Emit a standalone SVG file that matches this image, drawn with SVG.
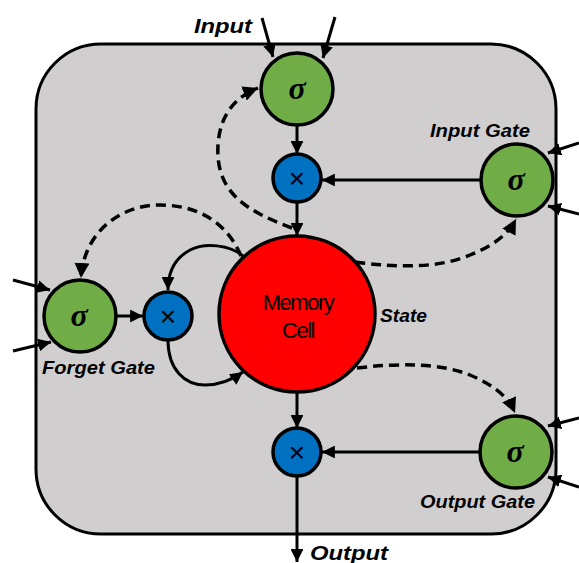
<svg xmlns="http://www.w3.org/2000/svg" width="579" height="563" viewBox="0 0 579 563">
<style>
.ln{fill:none;stroke:#000;stroke-width:3}
.ds{fill:none;stroke:#000;stroke-width:3.5;stroke-dasharray:10 6}
.sig{fill:#70ad47;stroke:#000;stroke-width:3.5}
.mul{fill:#0070c0;stroke:#000;stroke-width:3.5}
.st{font-family:"Liberation Serif",serif;font-weight:bold;font-style:italic;font-size:32px;text-anchor:middle;fill:#000}
.xt{font-family:"Liberation Sans",sans-serif;font-size:28px;text-anchor:middle;fill:#000}
.lb{font-family:"Liberation Sans",sans-serif;font-weight:bold;font-style:italic;fill:#000}
</style>
<defs>
<marker id="ah" viewBox="0 0 10 10" refX="10" refY="5" markerWidth="4.3" markerHeight="4.3" markerUnits="strokeWidth" orient="auto">
<path d="M0,0 L10,5 L0,10 z" fill="#000"/>
</marker>
</defs>
<rect id="frame" x="36" y="44" width="520" height="490" rx="65" ry="65" fill="#d0cece" stroke="#000" stroke-width="3"/>
<g id="connectors">
<line class="ln" x1="262" y1="18" x2="273" y2="57" marker-end="url(#ah)"/>
<line class="ln" x1="335" y1="17" x2="323" y2="58" marker-end="url(#ah)"/>
<line class="ln" x1="579" y1="143" x2="548" y2="153" marker-end="url(#ah)"/>
<line class="ln" x1="579" y1="214" x2="548" y2="206" marker-end="url(#ah)"/>
<line class="ln" x1="579" y1="418" x2="548" y2="426" marker-end="url(#ah)"/>
<line class="ln" x1="579" y1="487" x2="548" y2="477" marker-end="url(#ah)"/>
<line class="ln" x1="13" y1="280" x2="50" y2="290" marker-end="url(#ah)"/>
<line class="ln" x1="13" y1="351" x2="51" y2="342" marker-end="url(#ah)"/>
<line class="ln" x1="297" y1="125" x2="297" y2="154" marker-end="url(#ah)"/>
<line class="ln" x1="297" y1="203" x2="297" y2="236" marker-end="url(#ah)"/>
<line class="ln" x1="297" y1="392" x2="297" y2="428" marker-end="url(#ah)"/>
<line class="ln" x1="297" y1="476" x2="297" y2="562" marker-end="url(#ah)"/>
<line class="ln" x1="480" y1="180" x2="322" y2="180" marker-end="url(#ah)"/>
<line class="ln" x1="480" y1="452" x2="322" y2="452" marker-end="url(#ah)"/>
<line class="ln" x1="117" y1="316" x2="143" y2="316" marker-end="url(#ah)"/>
<path class="ln" d="M243,256 C230,245 205,242 190,250 C175,258 168,272 168,290" marker-end="url(#ah)"/>
<path class="ln" d="M168,340 C168,370 185,385 205,385 C220,385 232,380 243,372" marker-end="url(#ah)"/>
<path class="ds" d="M292,228 C250,212 215,195 218,145 C220,112 238,96 258,88" marker-end="url(#ah)"/>
<path class="ds" d="M241,256 C225,218 192,205 160,205 C120,205 84,232 81,278" marker-end="url(#ah)"/>
<path class="ds" d="M355,262 C400,268 440,268 470,255 C495,245 508,234 516,219" marker-end="url(#ah)"/>
<path class="ds" d="M357,368 C400,363 440,363 470,375 C498,387 509,399 515,413" marker-end="url(#ah)"/>
</g>
<g id="input-sigma">
<circle class="sig" cx="297" cy="89" r="36"/>
<text class="st" x="297" y="99">σ</text>
</g>
<g id="input-gate">
<circle class="sig" cx="517" cy="180" r="36"/>
<text class="st" x="516" y="190">σ</text>
</g>
<g id="forget-gate">
<circle class="sig" cx="80" cy="316" r="36"/>
<text class="st" x="79" y="326">σ</text>
</g>
<g id="output-gate">
<circle class="sig" cx="516" cy="452" r="36"/>
<text class="st" x="515" y="462">σ</text>
</g>
<g id="mul-input">
<circle class="mul" cx="297" cy="178" r="24"/>
<text class="xt" x="297" y="188">×</text>
</g>
<g id="mul-forget">
<circle class="mul" cx="168" cy="316" r="24"/>
<text class="xt" x="168" y="326">×</text>
</g>
<g id="mul-output">
<circle class="mul" cx="297" cy="452" r="24"/>
<text class="xt" x="297" y="462">×</text>
</g>
<g id="memory-cell">
<circle cx="297" cy="314" r="78" fill="#ff0000" stroke="#000" stroke-width="3.5"/>
<text x="298" y="310" font-family="Liberation Sans, sans-serif" font-size="22" text-anchor="middle" letter-spacing="-1.5">Memory</text>
<text x="298" y="338" font-family="Liberation Sans, sans-serif" font-size="22" text-anchor="middle" letter-spacing="-1.5">Cell</text>
</g>
<g id="labels">
<text class="lb" x="194" y="33" font-size="21" textLength="58" lengthAdjust="spacingAndGlyphs">Input</text>
<text class="lb" x="310" y="560" font-size="21" textLength="78" lengthAdjust="spacingAndGlyphs">Output</text>
<text class="lb" x="430" y="137" font-size="17.5" textLength="100" lengthAdjust="spacingAndGlyphs">Input Gate</text>
<text class="lb" x="42" y="374" font-size="17.5" textLength="113" lengthAdjust="spacingAndGlyphs">Forget Gate</text>
<text class="lb" x="420" y="508" font-size="17.5" textLength="115" lengthAdjust="spacingAndGlyphs">Output Gate</text>
<text class="lb" x="380" y="322" font-size="18" textLength="47" lengthAdjust="spacingAndGlyphs">State</text>
</g>
</svg>
